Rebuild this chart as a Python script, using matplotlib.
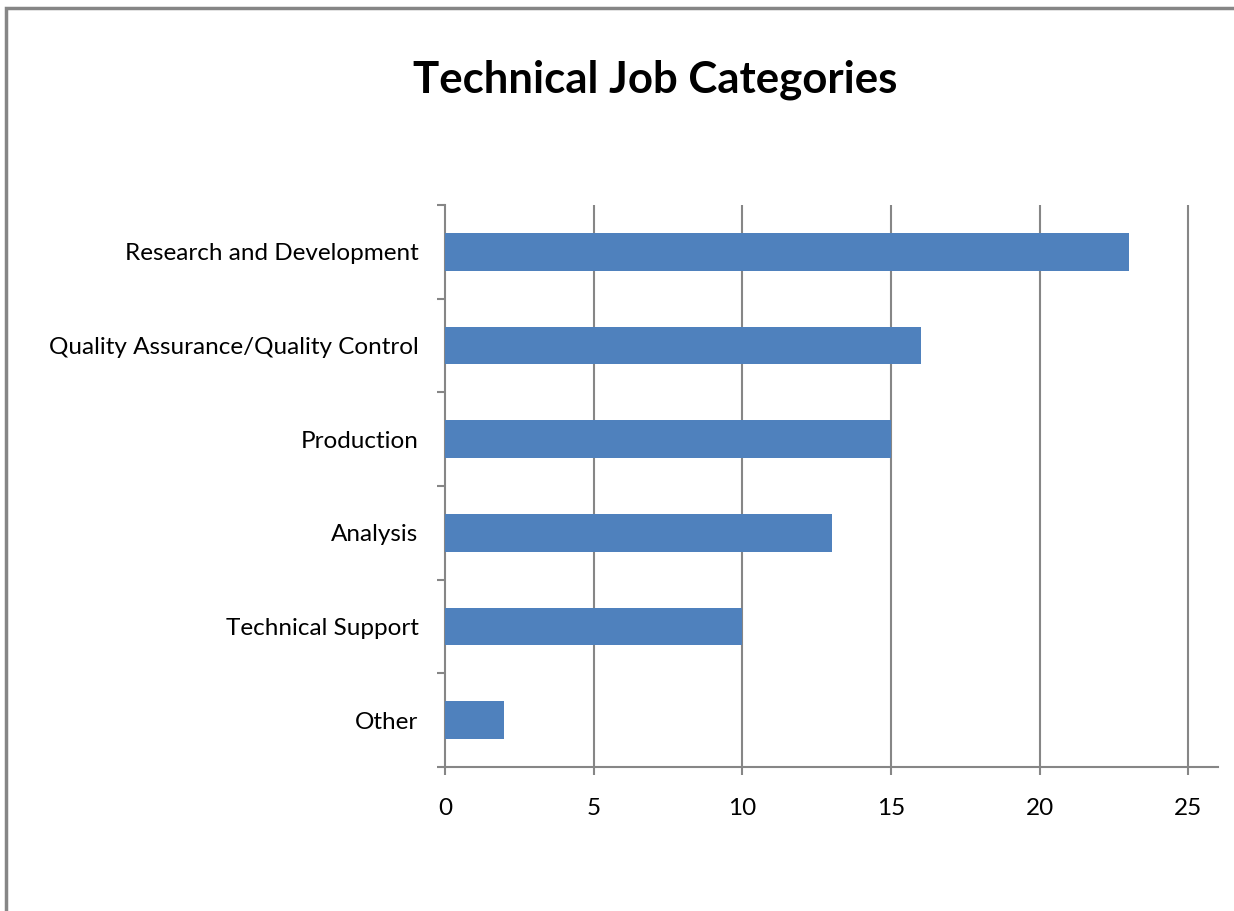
"""Horizontal bar chart of technical job categories."""

import matplotlib

matplotlib.use("Agg")
import matplotlib.pyplot as plt
from matplotlib.patches import Rectangle
import numpy as np

CATEGORIES = [
    "Other",
    "Technical Support",
    "Analysis",
    "Production",
    "Quality Assurance/Quality Control",
    "Research and Development",
]
COUNTS = [2, 10, 13, 15, 16, 23]
X_TICKS = [0, 5, 10, 15, 20, 25]

BAR_COLOR = "#4F81BD"
AXIS_GREY = "#868686"

plt.rcParams["font.family"] = ["Lato", "DejaVu Sans"]

W, H = 1234, 911
fig = plt.figure(figsize=(W / 100, H / 100), dpi=100)
fig.patch.set_facecolor("white")

# chart frame, only the left and top edges fall inside the image
fig.patches.append(
    Rectangle((6 / W, -0.1), 1.2, 1 - 8 / H + 0.1, transform=fig.transFigure,
              fill=False, edgecolor=AXIS_GREY, linewidth=2.5)
)

ax = fig.add_axes([445 / W, 1 - 767 / H, (1218 - 445) / W, (767 - 205) / H])
y = np.arange(len(CATEGORIES))
ax.barh(y, COUNTS, height=0.4, color=BAR_COLOR, zorder=3)

ax.set_xlim(0, 26)
ax.set_ylim(-0.5, len(CATEGORIES) - 0.5)

ax.set_xticks(X_TICKS)
ax.set_xticklabels([str(t) for t in X_TICKS])
for t in X_TICKS[1:]:
    ax.axvline(t, color=AXIS_GREY, linewidth=1.5, zorder=1)

ax.set_yticks(y)
ax.set_yticklabels(CATEGORIES)
ax.set_yticks(np.arange(-0.5, len(CATEGORIES)), minor=True)

for side in ("top", "right"):
    ax.spines[side].set_visible(False)
for side in ("left", "bottom"):
    ax.spines[side].set_color(AXIS_GREY)
    ax.spines[side].set_linewidth(1.5)

ax.tick_params(axis="x", which="major", length=6, width=1.5, color=AXIS_GREY,
               pad=16, labelsize=17.5)
ax.tick_params(axis="y", which="major", length=0, pad=19, labelsize=17.5)
ax.tick_params(axis="y", which="minor", length=6, width=1.5, color=AXIS_GREY)

fig.text(655 / W, 1 - 80 / H, "Technical Job Categories", ha="center",
         va="center", fontsize=31.5, fontweight="bold")

fig.savefig("out.png", dpi=100)
plt.close(fig)
